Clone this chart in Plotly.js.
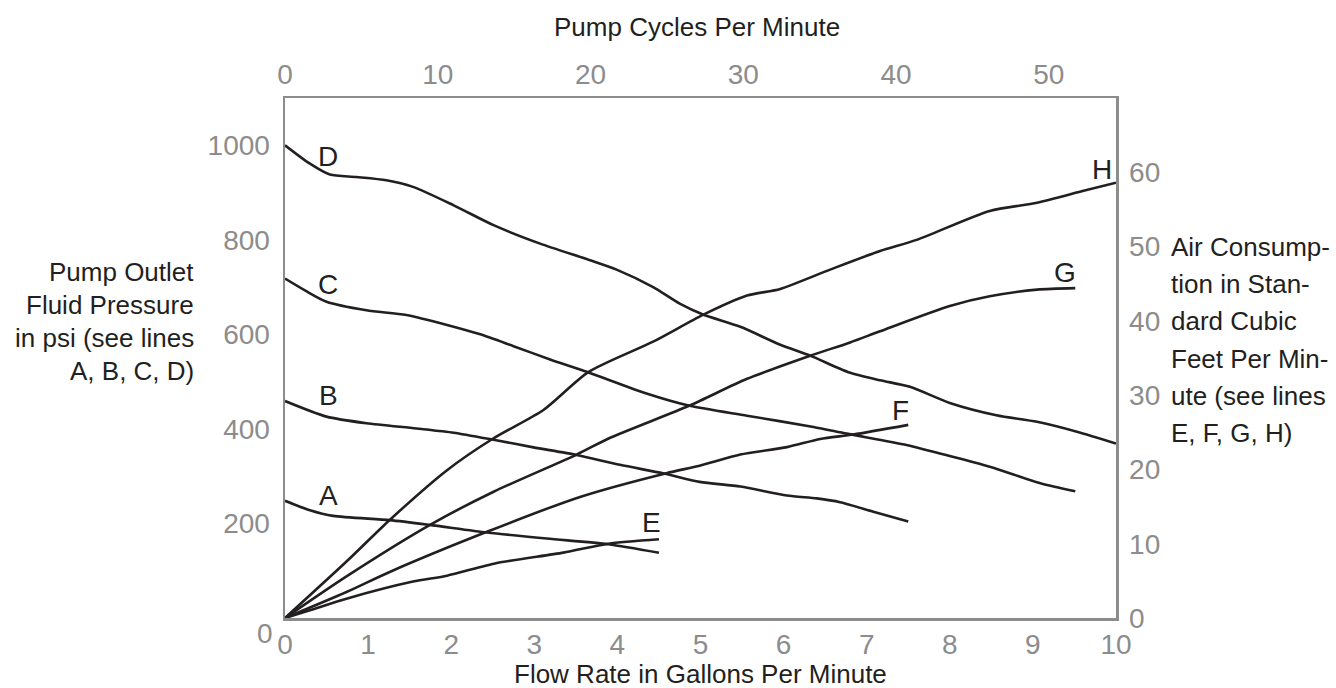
<!DOCTYPE html>
<html>
<head>
<meta charset="utf-8">
<script src="https://cdn.plot.ly/plotly-3.0.1.min.js"></script>
<style>html,body{margin:0;padding:0;background:#fff;}#chart{width:1336px;height:688px;}</style>
</head>
<body>
<div id="chart"></div>
<script>
// ---- Data (flow rate in gallons per minute) ----
// Pressure curves (psi, left axis)
const flowA = [0, 0.3, 0.58, 1.26, 1.74, 2.43, 3.15, 3.89, 4.5];
const psiA  = [248, 228, 216, 207, 197, 181, 168, 156, 138];

const flowB = [0, 0.5, 0.98, 1.58, 2.03, 2.51, 2.99, 3.51, 4.03, 4.55, 4.99, 5.48, 6.04, 6.4, 6.68, 7.08, 7.5];
const psiB  = [459, 426, 412, 401, 392, 377, 361, 345, 324, 306, 288, 278, 259, 253, 245, 225, 204];

const flowC = [0, 0.25, 0.5, 0.98, 1.46, 1.95, 2.35, 2.75, 3.19, 3.63, 4.35, 4.87, 5.56, 6.36, 6.76, 7.48, 7.88, 8.48, 9.09, 9.51];
const psiC  = [718, 692, 669, 651, 641, 620, 600, 575, 547, 521, 475, 449, 428, 404, 390, 366, 348, 320, 285, 268];

const flowD = [0, 0.3, 0.54, 0.86, 1.22, 1.54, 2.03, 2.51, 3.07, 3.67, 3.99, 4.43, 4.75, 5.03, 5.48, 5.96, 6.32, 6.78, 7.16, 7.52, 8.0, 8.56, 9.05, 9.53, 10];
const psiD  = [1000, 961, 938, 933, 926, 912, 873, 831, 792, 757, 737, 700, 665, 642, 616, 578, 555, 520, 503, 489, 455, 429, 415, 394, 369];

// Air consumption curves (SCFM, right axis)
const flowE = [0, 0.3, 0.74, 1.54, 1.95, 2.55, 3.35, 3.89, 4.5];
const scfmE = [0, 1.05, 2.6, 4.9, 5.7, 7.4, 8.8, 10.0, 10.6];

const flowF = [0, 0.74, 1.26, 2.43, 3.55, 4.59, 4.99, 5.48, 6.04, 6.44, 6.84, 7.5];
const scfmF = [0, 3.5, 6.2, 11.6, 16.3, 19.5, 20.5, 22.0, 23.0, 24.1, 24.7, 26.0];

const flowG = [0, 0.74, 1.74, 2.51, 3.51, 3.9, 4.87, 5.56, 6.32, 6.8, 7.16, 8.0, 8.48, 9.05, 9.51];
const scfmG = [0, 5.6, 12.5, 17.0, 22.0, 24.2, 28.6, 32.2, 35.3, 37.1, 38.6, 42.0, 43.3, 44.2, 44.4];

const flowH = [0, 0.74, 1.26, 1.95, 2.51, 3.11, 3.65, 4.43, 5.03, 5.56, 5.96, 6.56, 7.16, 7.6, 8.48, 9.05, 9.61, 10];
const scfmH = [0, 7.6, 13.2, 19.9, 24.2, 28.0, 33.1, 37.2, 40.8, 43.4, 44.3, 46.9, 49.4, 50.9, 54.8, 55.9, 57.5, 58.6];

// Tick labels
const flowTicks  = [0,1,2,3,4,5,6,7,8,9,10];
const cycleTicks = [0,10,20,30,40,50];
const psiTicks   = [0,200,400,600,800,1000];
const psiTickText = ['', '200', '400', '600', '800', '1000'];
const scfmTicks  = [0,10,20,30,40,50,60];

const bottomTitle = 'Flow Rate in Gallons Per Minute';
const topTitle = 'Pump Cycles Per Minute';
const leftTitleLines  = ['Pump Outlet', 'Fluid Pressure', 'in psi (see lines', 'A, B, C, D)'];
const rightTitleLines = ['Air Consump-', 'tion in Stan-', 'dard Cubic', 'Feet Per Min-', 'ute (see lines', 'E, F, G, H)'];

// ---- Styling ----
const FONT = 'Liberation Sans, Arial, Helvetica, sans-serif';
const GRAY = '#8c8c8c';
const INK = '#231f20';
const lineStyle = {color: INK, width: 2.6, shape: 'spline', smoothing: 0.7};

function tr(x, y, name, yaxis) {
  return {x: x, y: y, name: name, type: 'scatter', mode: 'lines', line: lineStyle,
          xaxis: 'x', yaxis: yaxis, hoverinfo: 'skip', showlegend: false};
}

const data = [
  tr(flowA, psiA, 'A', 'y'),
  tr(flowB, psiB, 'B', 'y'),
  tr(flowC, psiC, 'C', 'y'),
  tr(flowD, psiD, 'D', 'y'),
  tr(flowE, scfmE, 'E', 'y2'),
  tr(flowF, scfmF, 'F', 'y2'),
  tr(flowG, scfmG, 'G', 'y2'),
  tr(flowH, scfmH, 'H', 'y2'),
  // empty helper trace so the top (pump cycles) axis is drawn
  {x: cycleTicks, y: cycleTicks.map(() => null), xaxis: 'x2', yaxis: 'y', type: 'scatter', mode: 'lines',
   hoverinfo: 'skip', showlegend: false}
];

const tickFont = {family: FONT, size: 28, color: GRAY};
const axisCommon = {showline: true, linecolor: GRAY, linewidth: 2.5, showgrid: false, zeroline: false,
                    ticks: '', tickfont: tickFont, fixedrange: true, automargin: false};

// plot area in px: left 285, right 1116, top 98, bottom 618
const L = 285, R = 1116, T = 98, B = 618;
const px = v => (v - L) / (R - L);
const py = v => (B - v) / (B - T);

const annotations = [];
// curve letters (data coordinates)
const letters = [
  {t: 'D', x: 0.52, y: 977, yref: 'y'},
  {t: 'C', x: 0.52, y: 706, yref: 'y'},
  {t: 'B', x: 0.52, y: 471, yref: 'y'},
  {t: 'A', x: 0.52, y: 260, yref: 'y'},
  {t: 'E', x: 4.41, y: 12.8, yref: 'y2'},
  {t: 'F', x: 7.41, y: 28.0, yref: 'y2'},
  {t: 'G', x: 9.39, y: 46.5, yref: 'y2'},
  {t: 'H', x: 9.83, y: 60.4, yref: 'y2'}
];
letters.forEach(l => annotations.push({text: l.t, x: l.x, y: l.y, xref: 'x', yref: l.yref,
  showarrow: false, xanchor: 'center', yanchor: 'middle', font: {family: FONT, size: 28, color: INK}}));

const titleFont = {family: FONT, size: 26, color: INK};
leftTitleLines.forEach((s, i) => annotations.push({text: s, xref: 'paper', yref: 'paper',
  x: px(196), y: py(272 + i * 33), xanchor: 'right', yanchor: 'middle', showarrow: false, font: titleFont}));
rightTitleLines.forEach((s, i) => annotations.push({text: s, xref: 'paper', yref: 'paper',
  x: px(1169), y: py(247 + i * 37.2), xanchor: 'left', yanchor: 'middle', showarrow: false, font: titleFont}));
annotations.push({text: topTitle, xref: 'paper', yref: 'paper', x: px(697), y: py(27),
  xanchor: 'center', yanchor: 'middle', showarrow: false, font: titleFont});
annotations.push({text: bottomTitle, xref: 'paper', yref: 'paper', x: px(700), y: py(674),
  xanchor: 'center', yanchor: 'middle', showarrow: false, font: titleFont});
// left-axis zero label sits slightly below the corner
annotations.push({text: '0', xref: 'paper', yref: 'paper', x: px(265), y: py(633),
  xanchor: 'center', yanchor: 'middle', showarrow: false, font: tickFont});

const layout = {
  width: 1336, height: 688,
  margin: {l: L, r: 1336 - R, t: T, b: 688 - B, pad: 0},
  paper_bgcolor: '#ffffff', plot_bgcolor: '#ffffff',
  font: {family: FONT, color: INK},
  showlegend: false,
  xaxis: Object.assign({}, axisCommon, {range: [0, 10], tickvals: flowTicks, ticklabelstandoff: 0}),
  xaxis2: Object.assign({}, axisCommon, {range: [0, 54.4], tickvals: cycleTicks, overlaying: 'x', side: 'top', anchor: 'y',
    ticklabelstandoff: 0}),
  yaxis: Object.assign({}, axisCommon, {range: [0, 1100], tickvals: psiTicks, ticktext: psiTickText, ticklabelstandoff: 7}),
  yaxis2: Object.assign({}, axisCommon, {range: [0, 70], tickvals: scfmTicks, overlaying: 'y', side: 'right', anchor: 'x',
    ticklabelstandoff: 5}),
  annotations: annotations
};

Plotly.newPlot('chart', data, layout, {staticPlot: true, displayModeBar: false});
</script>
</body>
</html>
